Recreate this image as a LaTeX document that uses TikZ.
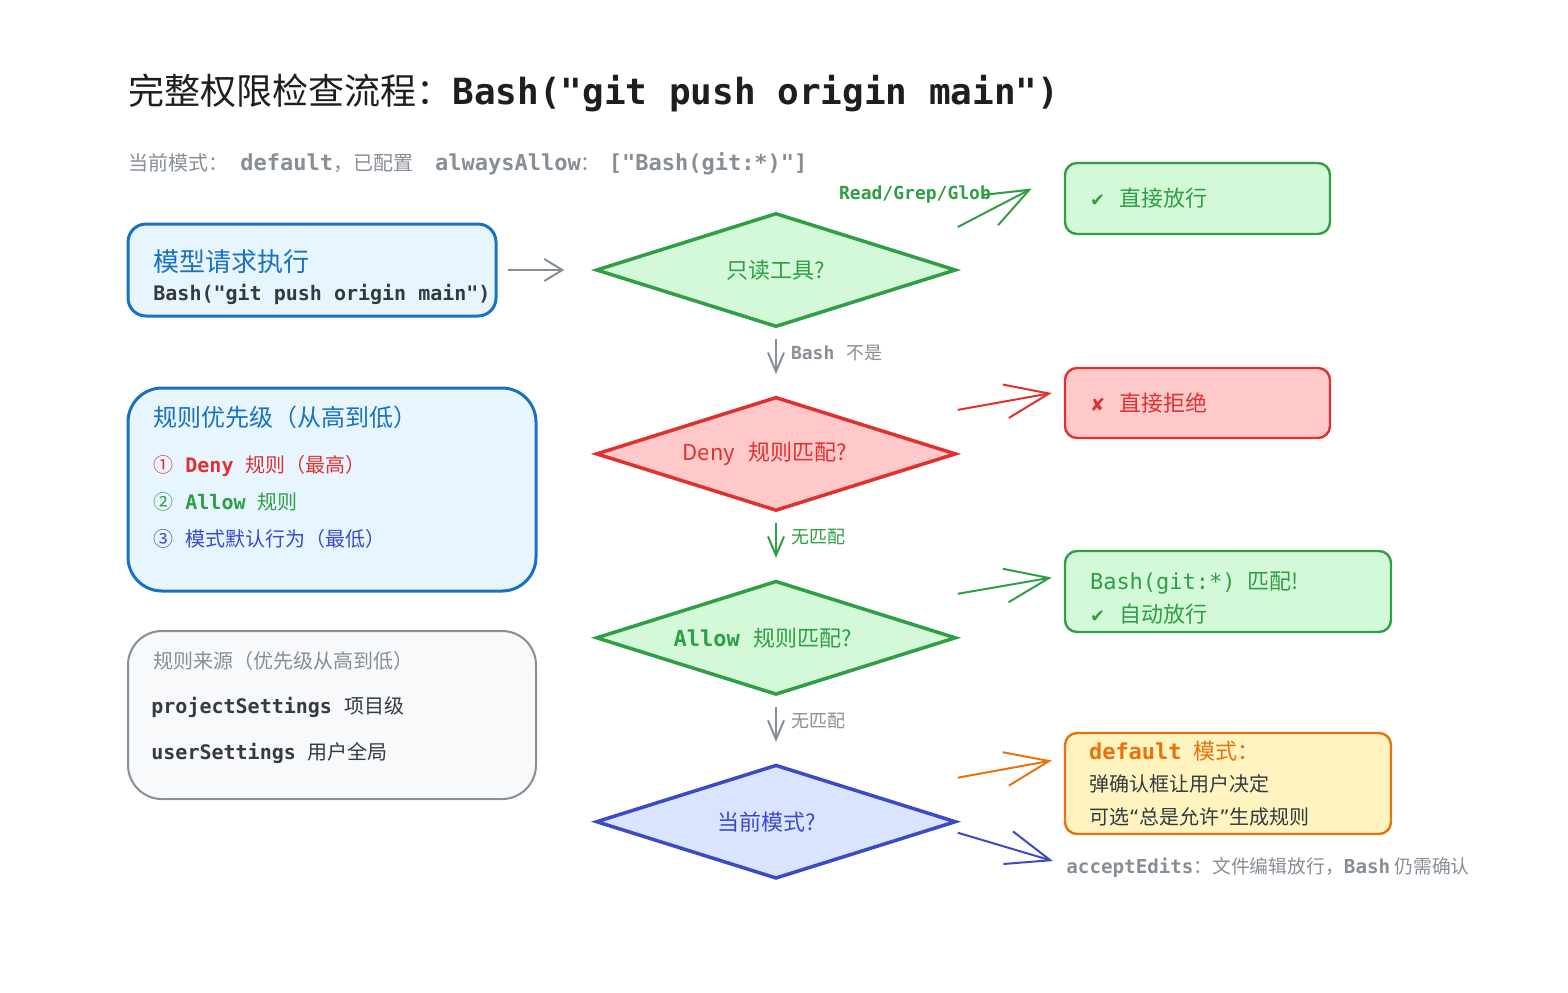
\documentclass[tikz,border=0pt]{standalone}
\usepackage{fontspec}
\setmainfont{Noto Sans CJK SC}
\setmonofont{DejaVu Sans Mono}
\newfontfamily\symfont{DejaVu Sans}
\usetikzlibrary{arrows.meta,shapes.geometric,positioning,calc}

\definecolor{grn}{HTML}{2F9E44}
\definecolor{grnfill}{HTML}{D3F9D8}
\definecolor{rd}{HTML}{E03131}
\definecolor{rdfill}{HTML}{FFC9C9}
\definecolor{blu}{HTML}{1971C2}
\definecolor{blufill}{HTML}{E7F5FF}
\definecolor{ind}{HTML}{3B4BC8}
\definecolor{indfill}{HTML}{DBE4FF}
\definecolor{org}{HTML}{E8720C}
\definecolor{orgfill}{HTML}{FFF3BF}
\definecolor{gry}{HTML}{868E96}
\definecolor{gryfill}{HTML}{F8F9FA}
\definecolor{ink}{HTML}{343A40}
\definecolor{titleink}{HTML}{1E1E1E}

\begin{document}
\begin{tikzpicture}[x=0.5pt,y=-0.5pt,
        txt/.style={anchor=base west,inner sep=0pt},
        infobox/.style={draw=blu,fill=blufill,line width=1.5pt,rounded corners=9pt},
        srcbox/.style={draw=gry,fill=gryfill,line width=1pt,rounded corners=17pt},
        card/.style={rounded corners=6pt,line width=1.2pt,align=left,inner xsep=12.5pt,
                     font=\fontsize{11}{16.5}\selectfont},
        decision/.style={diamond,aspect=3,inner sep=0pt,minimum width=180pt,minimum height=57pt,
                         line width=1.75pt,font=\fontsize{11}{13}\selectfont},
        link/.style={-{Straight Barb[length=9pt,width=11pt]},line width=1pt,gry,
                     shorten <=5pt,shorten >=15pt},
        down/.style={-{Straight Barb[length=9.5pt,width=8pt]},line width=1pt,
                     shorten <=5pt,shorten >=10.5pt},
        flow/.style={-{Straight Barb[length=22pt,width=17pt]},line width=1pt},
        lbl/.style={right=7pt,inner sep=0pt,font=\fontsize{9}{11}\selectfont},
        node distance=33.2pt]

        \useasboundingbox (0,0) rectangle (1568,992);

        % heading
        \node[txt,text=titleink,font=\fontsize{18}{22}\selectfont] (title) at (128,104)
          {完整权限检查流程：{\ttfamily\bfseries Bash("git push origin main")}};
        \node[txt,text=gry,font=\fontsize{10}{12}\selectfont] (mode) at (128,170)
          {当前模式：\hspace{6pt}{\fontsize{11}{12}\selectfont\ttfamily\bfseries default}，已配置\hspace{11pt}{\fontsize{11}{12}\selectfont\ttfamily\bfseries alwaysAllow}：\hspace{4pt}{\fontsize{11}{12}\selectfont\ttfamily\bfseries ["Bash(git:*)"]}};

        % left column
        \node[infobox,minimum width=184pt,minimum height=46pt] (req) at (312,270) {};
        \node[txt,text=blu,font=\fontsize{13}{15}\selectfont] (req-a) at (153,271) {模型请求执行};
        \node[txt,text=ink,font=\fontsize{10}{12}\selectfont\ttfamily\bfseries] (req-b) at (153,300)
          {Bash("git push origin main")};

        \node[infobox,rounded corners=17pt,minimum width=204pt,minimum height=101.5pt] (prio) at (332,489.5) {};
        \node[txt,text=blu,font=\fontsize{12}{14}\selectfont] (prio-t) at (153,426) {规则优先级（从高到低）};
        \node[txt,text=rd,font=\fontsize{10}{12}\selectfont] (prio-1) at (153,472)
          {①\hspace{6pt}{\ttfamily\bfseries Deny}\hspace{6pt}规则（最高）};
        \node[txt,text=grn,font=\fontsize{10}{12}\selectfont] (prio-2) at (153,509)
          {②\hspace{6pt}{\ttfamily\bfseries Allow}\hspace{6pt}规则};
        \node[txt,text=ind,font=\fontsize{10}{12}\selectfont] (prio-3) at (153,546)
          {③\hspace{6pt}模式默认行为（最低）};

        \node[srcbox,minimum width=204pt,minimum height=84pt] (src) at (332,715) {};
        \node[txt,text=gry,font=\fontsize{10}{12}\selectfont] (src-t) at (153,668) {规则来源（优先级从高到低）};
        \node[txt,text=ink,font=\fontsize{10}{12}\selectfont] (src-1) at (151,713)
          {{\ttfamily\bfseries projectSettings}\hspace{6pt}项目级};
        \node[txt,text=ink,font=\fontsize{10}{12}\selectfont] (src-2) at (151,759)
          {{\ttfamily\bfseries userSettings}\hspace{6pt}用户全局};

        % decisions
        \node[decision,draw=grn,fill=grnfill,text=grn] (d1) at (776,270) {只读工具?};
        \node[decision,draw=rd,fill=rdfill,text=rd,below=of d1] (d2)
          {Deny\hspace{7pt}规则匹配?\rule{11pt}{0pt}};
        \node[decision,draw=grn,fill=grnfill,text=grn,below=of d2] (d3)
          {{\ttfamily\bfseries Allow}\hspace{7pt}规则匹配?\rule{13pt}{0pt}};
        \node[decision,draw=ind,fill=indfill,text=ind,below=of d3] (d4) {当前模式?\rule{9pt}{0pt}};

        % outcomes
        \node[card,draw=grn,fill=grnfill,text=grn,text width=107.5pt,minimum height=35.5pt] (r1)
          at (1197.5,198.5) {{\symfont\fontsize{9}{11}\selectfont ✔}\hspace{7pt}直接放行};
        \node[card,draw=rd,fill=rdfill,text=rd,text width=107.5pt,minimum height=35pt] (r2)
          at (1197.5,403) {{\symfont\fontsize{9}{11}\selectfont ✘}\hspace{7pt}直接拒绝};
        \node[card,draw=grn,fill=grnfill,text=grn,text width=138pt,minimum height=40.5pt] (r3)
          at (1228,591.5) {\rule{0pt}{15pt}{\ttfamily Bash(git:*)}\hspace{6pt}匹配!\\
                           {\symfont\fontsize{9}{11}\selectfont ✔}\hspace{7pt}自动放行};
        \node[card,draw=org,fill=orgfill,text=org,text width=139pt,inner xsep=12pt,minimum height=50.5pt,
              font=\fontsize{10}{16.25}\selectfont] (r4) at (1228,783.5)
          {{\fontsize{11}{16.25}\selectfont{\ttfamily\bfseries default}\hspace{6pt}模式：}\\
           \textcolor{ink}{弹确认框让用户决定}\\
           \textcolor{ink}{可选{\symfont “}总是允许{\symfont ”}生成规则}};
        \node[txt,text=gry,font=\fontsize{9.4}{11}\selectfont] (edits) at (1066,873)
          {{\fontsize{9.6}{11}\selectfont\ttfamily\bfseries acceptEdits}：文件编辑放行，{\fontsize{9.6}{11}\selectfont\ttfamily\bfseries Bash} 仍需确认};
        \node[inner sep=0pt,text=grn,font=\fontsize{9}{11}\selectfont\ttfamily\bfseries] (ro) at (915,195)
          {Read/Grep/Glob};

        % connectors
        \draw[link] (req) -- (d1);
        \draw[down,gry] (d1) -- node[lbl,text=gry,pos=0.37] {{\ttfamily\bfseries Bash}\hspace{6pt}不是} (d2);
        \draw[down,grn] (d2) -- node[lbl,text=grn,pos=0.37] {无匹配} (d3);
        \draw[down,gry] (d3) -- node[lbl,text=gry,pos=0.37] {无匹配} (d4);

        \draw[flow,grn] ($(d1.east)+(0,-43)$) -- ($(r1.west)+(-32,-10)$);
        \draw[flow,rd]  ($(d2.east)+(0,-44)$) -- ($(r2.west)+(-12,-10)$);
        \draw[flow,grn] ($(d3.east)+(0,-44)$) -- ($(r3.west)+(-12,-14)$);
        \draw[flow,org] ($(d4.east)+(0,-44)$) -- ($(r4.west)+(-12,-23)$);
        \draw[flow,ind] ($(d4.east)+(0,11)$)  -- ($(edits.west)+(-13,-6)$);
\end{tikzpicture}
\end{document}
